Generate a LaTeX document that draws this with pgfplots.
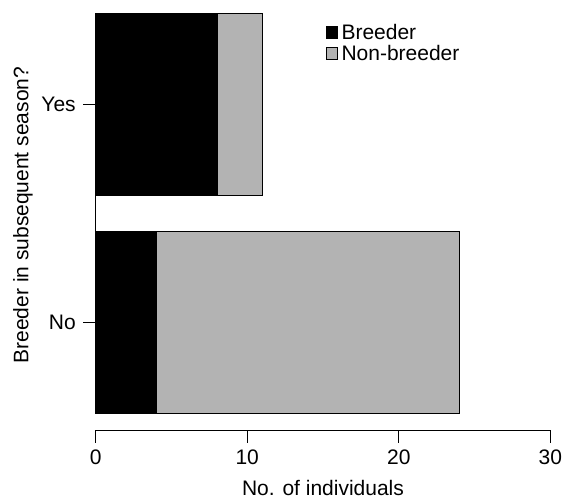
\documentclass[border=0pt]{standalone}
\usepackage{pgfplots}
\pgfplotsset{compat=1.18}
\usepackage{fontspec}
\setmainfont{Liberation Sans}
\definecolor{nbgray}{HTML}{B3B3B3}
\begin{document}
\fontsize{21bp}{25bp}\selectfont
\begin{tikzpicture}
\begin{axis}[
  at={(0,0)}, anchor=south west,
  scale only axis,
  width=454.6bp, height=430.3bp,
  xmin=0, xmax=30, ymin=-0.495, ymax=1.478,
  xbar stacked, bar width=0.8333,
  axis x line*=bottom, axis y line*=left,
  x axis line style={-, line width=0.9bp},
  y axis line style={draw=none},
  xtick={0,10,20,30}, ytick={0,1}, yticklabels={No,Yes},
  tick align=outside, major tick length=12.4bp,
  tick style={black, line width=0.9bp},
  /pgf/number format/assume math mode=true,
  tick label style={font=\fontsize{21bp}{25bp}\selectfont, inner sep=0pt},
  xticklabel shift=6.6bp,
  yticklabel shift=7.4bp,
  clip=false,
  xlabel={No. of individuals},
  ylabel={Breeder in subsequent season?},
  label style={font=\fontsize{21bp}{25bp}\selectfont, inner sep=0pt},
  xlabel style={at={(axis description cs:0.5,0)}, anchor=base, yshift=-64.7bp},
  ylabel style={at={(axis description cs:-0.1483,0.5)}, anchor=base, rotate=0},
  legend image code/.code={\draw[#1, line width=0.8bp] (0bp,-3.6bp) rectangle (11.6bp,8.0bp); \path (15bp,0bp);},
  legend style={draw=none, fill=none, inner sep=0pt, outer sep=0pt,
    at={(axis cs:15.18,1.366)}, anchor=north west,
    font=\fontsize{21bp}{25bp}\selectfont,
    nodes={inner sep=0pt, text height=15.5bp, text depth=5.2bp},
    row sep=0pt},
  legend cell align=left,
]
\draw[line width=0.9bp] (axis cs:0,0) -- (axis cs:0,1);
\addplot[fill=black, draw=black, line width=0.8bp] coordinates {(4,0) (8,1)};
\addplot[fill=nbgray, draw=black, line width=0.8bp] coordinates {(20,0) (3,1)};
\legend{Breeder, Non-breeder}
\end{axis}
\pgfresetboundingbox
\path (-95.7bp,-67.7bp) rectangle (467.3bp,430.3bp);
\end{tikzpicture}
\end{document}
